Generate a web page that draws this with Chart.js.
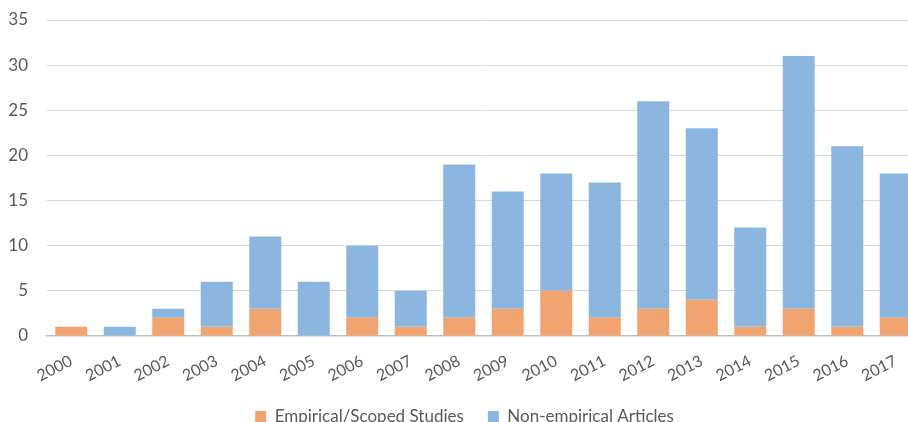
<!DOCTYPE html>
<html>
<head>
<meta charset="utf-8">
<script src="https://cdn.jsdelivr.net/npm/chart.js@4"></script>
<style>
    html, body { margin: 0; padding: 0; background: #fff; overflow: hidden; }
    #wrap { position: relative; width: 925px; height: 435px; }
</style>
</head>
<body>
<div id="wrap"><canvas id="chart"></canvas></div>
<script>
// Publications per year
const years = ['2000', '2001', '2002', '2003', '2004', '2005', '2006', '2007', '2008',
    '2009', '2010', '2011', '2012', '2013', '2014', '2015', '2016', '2017'];
const empiricalStudies = [1, 0, 2, 1, 3, 0, 2, 1, 2, 3, 5, 2, 3, 4, 1, 3, 1, 2];
const nonEmpiricalArticles = [0, 1, 1, 5, 8, 6, 8, 4, 17, 13, 13, 15, 23, 19, 11, 28, 20, 16];
const yTicks = [0, 5, 10, 15, 20, 25, 30, 35];

const fontFamily = 'Lato, "Open Sans", sans-serif';
const textColor = '#595959';

const ctx = document.getElementById('chart').getContext('2d');
new Chart(ctx, {
    type: 'bar',
    data: {
        labels: years,
        datasets: [
            {
                label: 'Empirical/Scoped Studies',
                data: empiricalStudies,
                backgroundColor: 'rgb(241, 164, 112)',
                borderWidth: 0
            },
            {
                label: 'Non-empirical Articles',
                data: nonEmpiricalArticles,
                backgroundColor: 'rgb(138, 182, 224)',
                borderWidth: 0
            }
        ]
    },
    options: {
        responsive: true,
        maintainAspectRatio: false,
        animation: false,
        layout: {
            autoPadding: false,
            padding: { top: 20, left: 9, right: 5, bottom: 0 }
        },
        datasets: {
            bar: { categoryPercentage: 1, barPercentage: 0.66 }
        },
        scales: {
            x: {
                stacked: true,
                // invisible tick marks just push the labels down from the axis
                grid: {
                    drawOnChartArea: false,
                    drawTicks: true,
                    tickLength: 17,
                    color: 'rgba(0, 0, 0, 0)'
                },
                border: { display: true, color: '#bfbfbf', width: 1.5 },
                ticks: {
                    color: textColor,
                    font: { family: fontFamily, size: 16, lineHeight: 1 },
                    minRotation: 27,
                    maxRotation: 27,
                    padding: 0
                }
            },
            y: {
                stacked: true,
                min: 0,
                max: 35,
                afterBuildTicks: (axis) => {
                    axis.ticks = yTicks.map(v => ({ value: v }));
                },
                afterFit: (axis) => {
                    axis.width = 38;
                    axis.paddingTop = 0;
                    axis.paddingBottom = 0;
                },
                grid: { color: '#d9d9d9', drawTicks: false },
                border: { display: false },
                ticks: {
                    color: textColor,
                    font: { family: fontFamily, size: 17 },
                    padding: 19
                }
            }
        },
        plugins: {
            legend: {
                position: 'bottom',
                labels: {
                    color: textColor,
                    font: { family: fontFamily, size: 17 },
                    boxWidth: 11,
                    boxHeight: 11,
                    padding: 24
                }
            },
            tooltip: { enabled: false }
        }
    }
});
</script>
</body>
</html>
